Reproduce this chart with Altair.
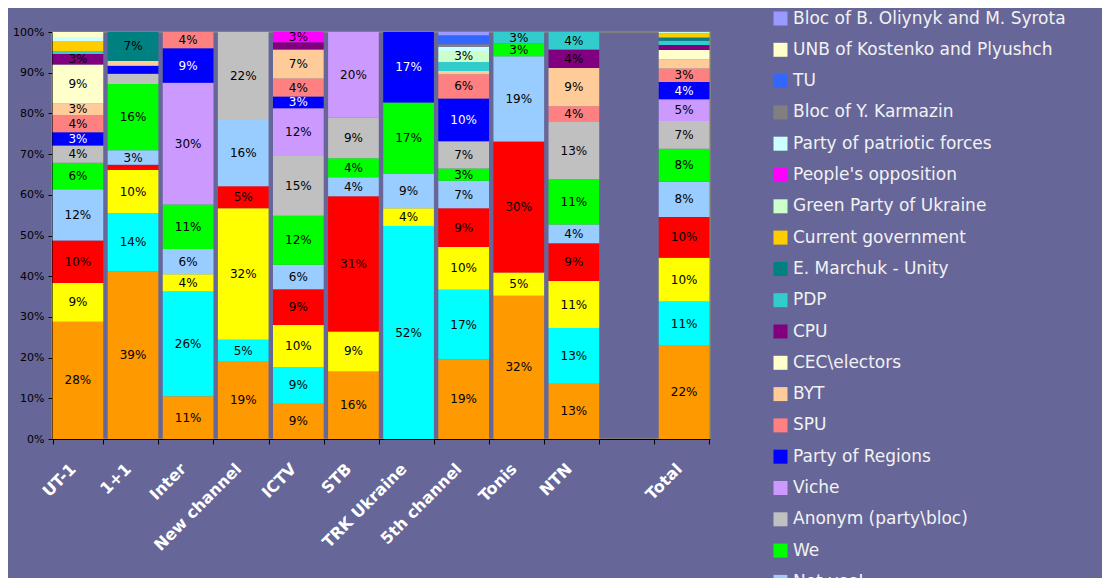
import altair as alt
import pandas as pd

# Categories (x axis); " " is the empty slot before "Total"
channels = ["UT-1", "1+1", "Inter", "New channel", "ICTV", "STB", "TRK Ukraine",
            "5th channel", "Tonis", "NTN", " ", "Total"]
data_channels = ["UT-1", "1+1", "Inter", "New channel", "ICTV", "STB", "TRK Ukraine",
                 "5th channel", "Tonis", "NTN", "Total"]

# Series in stacking order (bottom -> top)
series_names = [
    "Our Ukraine", "Lytvyn's Bloc", "PORA-PRP", "President",
    "Not yes!", "We", "Anonym (party\\bloc)", "Viche", "Party of Regions", "SPU", "BYT",
    "CEC\\electors", "CPU", "PDP", "E. Marchuk - Unity", "Current government",
    "Green Party of Ukraine", "People's opposition", "Party of patriotic forces",
    "Bloc of Y. Karmazin", "TU", "UNB of Kostenko and Plyushch",
    "Bloc of B. Oliynyk and M. Syrota",
]
series_colors = [
    "#FF9900", "#00FFFF", "#FFFF00", "#FF0000",
    "#99CCFF", "#00FF00", "#C0C0C0", "#CC99FF", "#0000FF", "#FF8080", "#FFCC99",
    "#FFFFCC", "#800080", "#33CCCC", "#008080", "#FFCC00",
    "#CCFFCC", "#FF00FF", "#CCFFFF",
    "#808080", "#3366FF", "#FFFFCC",
    "#9999FF",
]

# Values per series, in data_channels order (shares, %)
our_ukraine   = [28.4, 39.4, 10.5, 19.0, 8.8, 15.6, 0, 19.4, 32.4, 13.2, 22.2]
lytvyn        = [0, 13.6, 25.8, 5.4, 8.8, 0, 52.2, 16.9, 0, 12.9, 10.6]
pora          = [9.4, 10.2, 4.2, 32.3, 10.3, 9.2, 4.4, 10.4, 5.3, 11.1, 10.4]
president     = [10.3, 1.2, 0, 5.4, 8.8, 31.2, 0, 9.4, 29.6, 8.9, 9.7]
not_yes       = [12.4, 3.4, 6.2, 16.3, 6.0, 4.4, 8.5, 6.7, 19.3, 4.4, 8.4]
we            = [6.4, 15.6, 11.0, 0, 12.0, 4.4, 17.4, 3.0, 2.9, 10.7, 7.9]
anonym        = [4.2, 2.4, 0, 21.6, 14.6, 9.3, 0, 6.6, 0, 13.4, 6.6]
viche         = [0, 0, 29.9, 0, 11.7, 19.8, 0, 0, 0, 0, 5.2]
regions       = [3.2, 1.9, 8.5, 0, 2.9, 0, 17.3, 10.4, 0, 0, 4.1]
spu           = [4.2, 0, 4.0, 0, 4.4, 0, 0, 5.9, 0, 3.7, 3.2]
byt           = [2.8, 1.1, 0, 0, 7.1, 0, 0, 0.8, 0, 9.0, 2.2]
cec           = [9.4, 0, 0, 0, 0, 0, 0, 0, 0, 0, 2.2]
cpu           = [2.6, 0, 0, 0, 1.8, 0, 0, 0, 0, 4.4, 1.2]
pdp           = [0.7, 0, 0, 0, 0, 0, 0, 2.2, 2.6, 4.1, 1.0]
marchuk       = [0, 6.8, 0, 0, 0, 0, 0, 0, 0, 0, 0.8]
current_gov   = [2.4, 0, 0, 0, 0, 0, 0, 0, 0, 0, 1.0]
green_party   = [0, 0, 0, 0, 0, 0, 0, 2.7, 0, 0, 0.3]
people_opp    = [0, 0, 0, 0, 2.5, 0, 0, 0, 0, 0, 0]
patriotic     = [1.0, 0, 0, 0, 0, 0, 0, 1.0, 0, 0, 0]
karmazin      = [0, 0, 0, 0, 0, 0, 0, 0.6, 0, 0, 0]
tu            = [0, 0, 0, 0, 0, 0, 0, 2.2, 0, 0, 0]
unb           = [1.2, 0, 0, 0, 0, 0, 0, 0, 0, 0, 0]
oliynyk       = [0, 0, 0, 0, 0, 0, 0, 0.8, 0, 0, 0]

series_values = [our_ukraine, lytvyn, pora, president, not_yes, we, anonym, viche,
                 regions, spu, byt, cec, cpu, pdp, marchuk, current_gov, green_party,
                 people_opp, patriotic, karmazin, tu, unb, oliynyk]

rows = []
for idx, (name, vals) in enumerate(zip(series_names, series_values)):
    for ch, v in zip(data_channels, vals):
        if v > 0:
            rows.append({"channel": ch, "series": name, "order": idx, "value": v,
                         "label": f"{int(v + 0.5)}%"})
df = pd.DataFrame(rows)

legend_order = series_names[::-1]
legend_colors = series_colors[::-1]

FONT = "DejaVu Sans"

x_enc = alt.X(
    "channel:N",
    scale=alt.Scale(domain=channels, paddingInner=0.08, paddingOuter=0.01),
    axis=alt.Axis(title=None, labelAngle=-45, labelAlign="right", labelBaseline="middle",
                  labelColor="white", labelFont=FONT, labelFontWeight="bold",
                  labelFontSize=16, labelPadding=22, labelOffset=-5, labelOverlap=False,
                  tickBand="extent", tickSize=5, tickColor="black", domainColor="black",
                  labelLimit=300),
)

base = alt.Chart(df).transform_stack(
    stack="value", groupby=["channel"], as_=["y0", "y1"], offset="normalize",
    sort=[alt.SortField("order", "ascending")],
)

bars = base.mark_bar(stroke=None).encode(
    x=x_enc,
    y=alt.Y("y0:Q", scale=alt.Scale(domain=[0, 1]),
            axis=alt.Axis(title=None, format=".0%", values=[i / 10 for i in range(11)],
                          grid=False, domainColor="black", tickColor="black",
                          labelColor="black", labelFont=FONT, labelFontSize=11,
                          tickSize=4, labelPadding=4)),
    y2="y1:Q",
    color=alt.Color("series:N",
                    scale=alt.Scale(domain=legend_order, range=legend_colors),
                    legend=alt.Legend(title=None, orient="none", legendX=720, legendY=-22,
                                      symbolType="square", symbolSize=196,
                                      symbolStrokeWidth=0, labelColor="#F2F2F2",
                                      labelFont=FONT, labelFontSize=17, rowPadding=13.3,
                                      labelOffset=4, padding=0, labelLimit=400)),
)

texts = base.transform_filter("datum.value >= 2.45").transform_calculate(
    mid="(datum.y0 + datum.y1) / 2"
).mark_text(font=FONT, fontSize=12, align="center", baseline="middle").encode(
    x=alt.X("channel:N", scale=alt.Scale(domain=channels, paddingInner=0.08, paddingOuter=0.01)),
    y=alt.Y("mid:Q", scale=alt.Scale(domain=[0, 1])),
    text="label:N",
    color=alt.condition(alt.datum.series == "Party of Regions", alt.value("white"),
                        alt.value("black")),
)

chart = alt.layer(bars, texts).properties(
    width=658, height=407,
    autosize=alt.AutoSizeParams(type="none"),
    padding={"left": 44, "top": 24, "right": 392, "bottom": 139},
    background="#666699",
).configure_view(fill="#666699", stroke="#808080", strokeWidth=2)

chart.save("out.html", embed_options={"renderer": "svg", "actions": False})
